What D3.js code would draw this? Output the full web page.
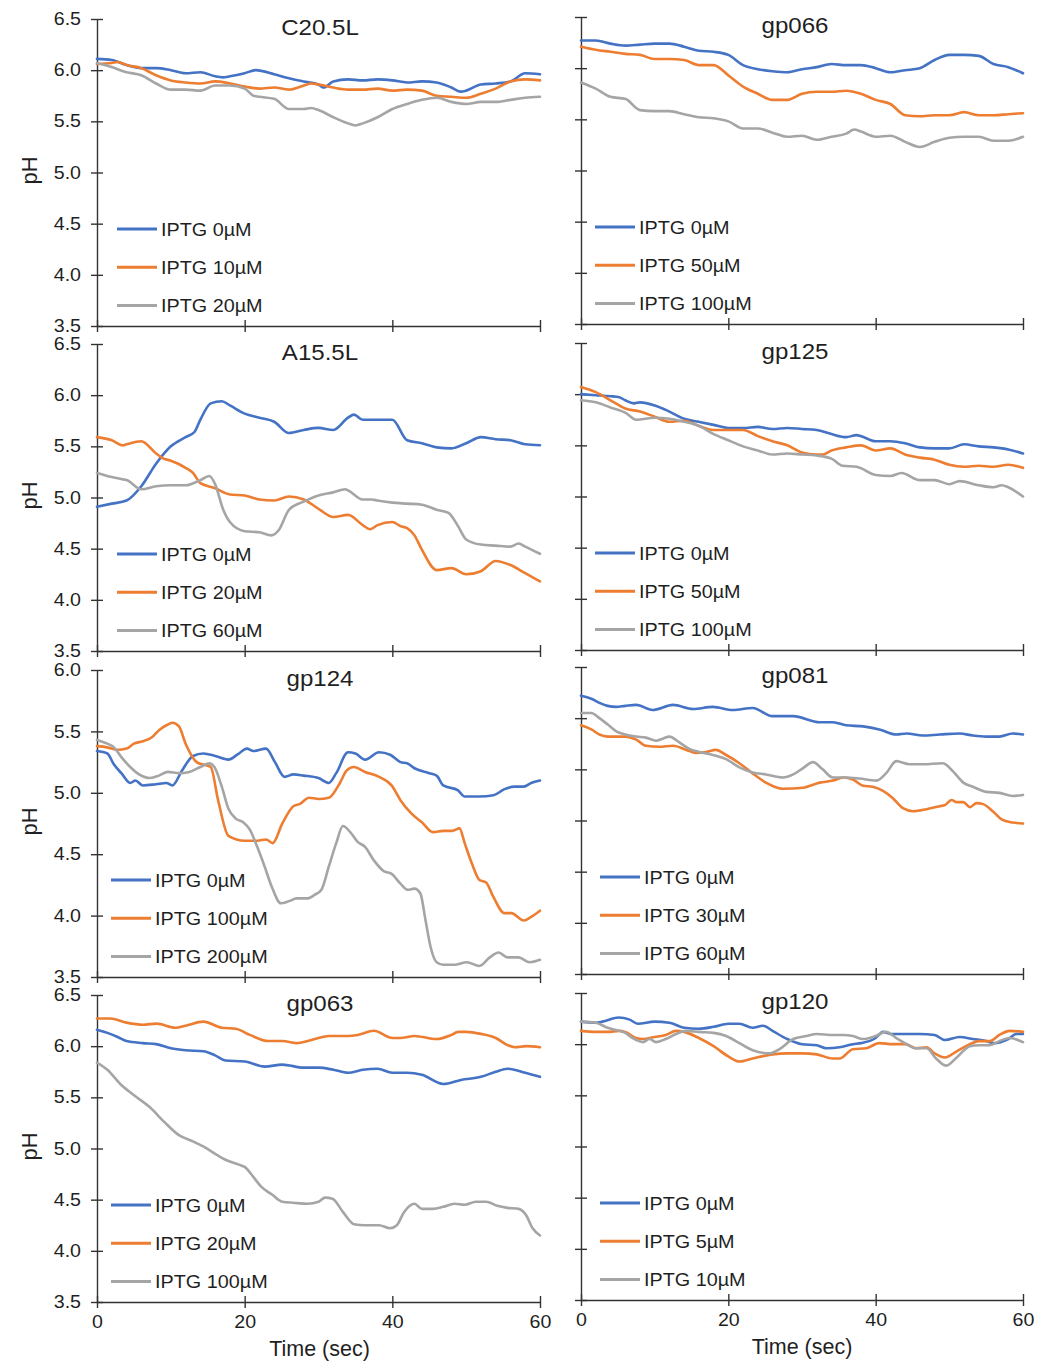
<!DOCTYPE html>
<html>
<head>
<meta charset="utf-8">
<script src="https://cdn.jsdelivr.net/npm/d3@7"></script>
<style>
  body { margin: 0; background: #fff; }
  svg { display: block; }
  text { font-family: "Liberation Sans", Arial, Helvetica, sans-serif; fill: #1f1f1f; }
</style>
</head>
<body>
<svg id="chart" width="1051" height="1362"></svg>
<script>
// ---- data: pH traces, [time (sec), pH] ----
const c205l_0 = [[0,6.11],[2,6.10],[4,6.05],[6,6.02],[8,6.02],[10,6.00],[12,5.97],[14,5.98],[16,5.94],[17,5.93],[18,5.94],[20,5.97],[21.5,6.00],[24,5.96],[26,5.92],[28,5.89],[30,5.86],[30.7,5.83],[32,5.89],[34,5.91],[36,5.90],[38,5.91],[40,5.90],[42,5.88],[44,5.89],[46,5.88],[48,5.83],[49.3,5.79],[50,5.80],[52,5.86],[54,5.87],[56,5.89],[58,5.97],[60,5.96]];
const c205l_10 = [[0,6.06],[2,6.07],[2.8,6.08],[4,6.05],[6,6.02],[8,5.95],[10,5.90],[12,5.88],[14,5.87],[16,5.89],[18,5.87],[20,5.84],[22,5.82],[24,5.83],[26,5.81],[28,5.85],[29,5.87],[30,5.86],[32,5.83],[34,5.81],[36,5.81],[38,5.82],[40,5.80],[42,5.81],[44,5.80],[46,5.75],[48,5.74],[50,5.73],[52,5.77],[54,5.82],[56,5.89],[58,5.91],[60,5.90]];
const c205l_20 = [[0,6.07],[2,6.03],[4,5.98],[6,5.95],[8,5.87],[10,5.81],[12,5.81],[14,5.80],[16,5.85],[18,5.85],[20,5.82],[21.2,5.75],[22,5.74],[24,5.72],[26,5.62],[28,5.62],[29,5.63],[30,5.61],[32,5.54],[34,5.48],[35,5.46],[36,5.48],[38,5.54],[40,5.62],[42,5.67],[44,5.71],[46,5.73],[48,5.69],[50,5.67],[52,5.69],[54,5.69],[56,5.71],[58,5.73],[60,5.74]];

const gp066_0 = [[0,6.27],[2,6.27],[4,6.24],[6,6.22],[8,6.23],[10,6.24],[12,6.24],[14,6.21],[16,6.17],[18,6.16],[20,6.13],[22,6.03],[24,5.99],[26,5.97],[28,5.96],[30,5.99],[32,6.01],[34,6.04],[36,6.03],[38,6.03],[40,6.00],[42,5.96],[44,5.98],[46,6.00],[48,6.08],[50,6.13],[52,6.13],[54,6.12],[56,6.04],[58,6.01],[60,5.95]];
const gp066_50 = [[0,6.21],[2,6.18],[4,6.16],[6,6.14],[8,6.13],[10,6.09],[12,6.09],[14,6.08],[16,6.03],[18,6.03],[20,5.93],[22,5.82],[24,5.75],[26,5.69],[28,5.69],[30,5.75],[32,5.77],[34,5.77],[36,5.78],[38,5.75],[40,5.69],[42,5.65],[44,5.54],[46,5.53],[48,5.54],[50,5.54],[52,5.57],[54,5.54],[56,5.54],[58,5.55],[60,5.56]];
const gp066_100 = [[0,5.86],[2,5.80],[4,5.72],[6,5.70],[8,5.59],[10,5.58],[12,5.58],[14,5.55],[16,5.52],[18,5.51],[20,5.48],[22,5.41],[24,5.41],[26,5.37],[28,5.33],[30,5.34],[32,5.30],[34,5.33],[36,5.36],[37.1,5.40],[38,5.38],[40,5.33],[42,5.34],[44,5.28],[46,5.23],[48,5.28],[50,5.32],[52,5.33],[54,5.33],[56,5.29],[58,5.29],[60,5.33]];

const a155l_0 = [[0,4.91],[2,4.94],[4,4.97],[6,5.11],[8,5.33],[10,5.50],[12,5.59],[13.2,5.64],[14,5.76],[15.4,5.92],[16.9,5.94],[18,5.90],[20,5.82],[22,5.78],[24,5.74],[26,5.63],[28,5.66],[30,5.68],[32,5.66],[34,5.78],[34.8,5.81],[36,5.76],[38,5.76],[40,5.76],[42,5.56],[44,5.53],[46,5.49],[48,5.48],[50,5.53],[52,5.59],[54,5.57],[56,5.56],[58,5.52],[60,5.51]];
const a155l_20 = [[0,5.59],[2,5.56],[3.5,5.51],[4,5.52],[6,5.55],[8,5.43],[9,5.38],[10,5.36],[11,5.33],[12,5.29],[13,5.24],[14,5.14],[16,5.09],[18,5.03],[20,5.02],[22,4.98],[24,4.97],[26,5.01],[28,4.98],[30,4.89],[32,4.81],[34,4.83],[36,4.73],[37,4.69],[38,4.73],[40,4.76],[41.1,4.72],[42,4.70],[43,4.63],[44,4.49],[46,4.29],[48,4.31],[50,4.25],[52,4.28],[54,4.38],[56,4.34],[58,4.26],[60,4.18]];
const a155l_60 = [[0,5.24],[2,5.20],[3.3,5.18],[4,5.17],[6,5.08],[8,5.11],[10,5.12],[12,5.12],[14,5.17],[15.2,5.21],[16,5.13],[17.1,4.88],[18,4.76],[20,4.67],[22,4.66],[23.6,4.63],[24.6,4.68],[26,4.88],[28,4.96],[30,5.02],[32,5.05],[33.6,5.08],[34,5.07],[36,4.98],[37.2,4.98],[38,4.97],[40,4.95],[42,4.94],[44,4.93],[46,4.88],[47.6,4.85],[48.9,4.72],[50,4.59],[52,4.54],[54,4.53],[56,4.52],[57.1,4.55],[58,4.52],[60,4.45]];

const gp125_0 = [[0,6.00],[2,5.99],[4,5.98],[5.2,5.97],[6,5.94],[7.2,5.91],[8,5.92],[10,5.89],[12,5.83],[14,5.76],[16,5.73],[18,5.70],[20,5.67],[22,5.67],[24,5.68],[26,5.66],[28,5.67],[30,5.66],[32,5.65],[34,5.61],[36,5.58],[37.4,5.60],[38,5.59],[40,5.54],[42,5.54],[44,5.52],[46,5.48],[48,5.47],[50,5.47],[52,5.51],[54,5.49],[56,5.48],[58,5.46],[60,5.42]];
const gp125_50 = [[0,6.07],[2,6.02],[4,5.94],[6,5.86],[8,5.83],[10,5.78],[12,5.73],[14,5.74],[16,5.69],[18,5.65],[20,5.65],[22,5.65],[24,5.59],[26,5.54],[28,5.50],[30,5.43],[32,5.41],[32.8,5.41],[34,5.45],[36,5.48],[38,5.50],[40,5.45],[42,5.47],[44,5.41],[46,5.38],[48,5.36],[50,5.31],[52,5.29],[54,5.30],[56,5.29],[58,5.31],[60,5.28]];
const gp125_100 = [[0,5.94],[2,5.92],[4,5.87],[6,5.82],[7.5,5.75],[10,5.77],[12,5.76],[14,5.73],[16,5.69],[18,5.61],[20,5.55],[22,5.49],[24,5.45],[26,5.41],[28,5.42],[30,5.41],[32,5.40],[34,5.37],[35.5,5.30],[37.4,5.29],[40,5.21],[42,5.20],[43.5,5.23],[46,5.16],[48,5.16],[50,5.12],[51.4,5.15],[54,5.11],[56,5.09],[57.1,5.11],[58,5.09],[60,5.00]];

const gp124_0 = [[0,5.34],[1.4,5.32],[2.3,5.23],[3.3,5.16],[4.5,5.08],[5.2,5.10],[6.2,5.06],[8,5.07],[9.4,5.08],[10.2,5.06],[11.5,5.18],[13,5.30],[14.4,5.32],[16,5.30],[17.8,5.27],[19,5.31],[20.3,5.36],[21.2,5.34],[22.9,5.36],[24.1,5.25],[25.4,5.13],[26.6,5.15],[28,5.14],[30,5.12],[31.4,5.08],[32.4,5.16],[34,5.33],[35,5.32],[36.3,5.27],[38.2,5.33],[39.7,5.31],[41.1,5.25],[42,5.24],[43,5.20],[45,5.16],[46,5.14],[46.9,5.06],[48.9,5.02],[49.8,4.97],[51.8,4.97],[53.7,4.98],[55.2,5.03],[56.6,5.05],[57.8,5.05],[58.8,5.08],[60,5.10]];
const gp124_100 = [[0,5.38],[1.4,5.37],[2.8,5.35],[4,5.36],[5,5.40],[6.2,5.42],[7.4,5.45],[8.4,5.51],[9.4,5.55],[10.2,5.57],[11.1,5.54],[12,5.40],[13.5,5.25],[14.4,5.23],[15.4,5.21],[16.4,4.94],[17.8,4.65],[20,4.61],[21.7,4.61],[22.9,4.62],[23.8,4.59],[25.1,4.75],[26.6,4.89],[27.5,4.91],[28.7,4.96],[30,4.95],[31.4,4.96],[32.9,5.08],[33.8,5.18],[34.8,5.21],[36.3,5.17],[38.2,5.13],[39.9,5.06],[41.1,4.94],[42.6,4.83],[44,4.76],[45.5,4.68],[46.9,4.69],[48.1,4.69],[49.1,4.71],[49.8,4.59],[50.8,4.42],[51.8,4.29],[52.7,4.27],[53.7,4.15],[55.2,4.02],[56.1,4.02],[57.8,3.96],[58.8,3.99],[60,4.04]];
const gp124_200 = [[0,5.43],[1.4,5.40],[2.3,5.37],[3.3,5.29],[4.5,5.21],[5.7,5.15],[7.2,5.12],[8.4,5.14],[9.6,5.17],[11.1,5.16],[12.5,5.17],[14,5.21],[15.2,5.24],[15.9,5.21],[16.9,5.05],[17.8,4.87],[18.8,4.79],[19.8,4.76],[20.7,4.70],[21.7,4.56],[22.7,4.40],[23.7,4.23],[24.9,4.10],[26.1,4.12],[27,4.14],[28.5,4.14],[29.5,4.17],[30.4,4.21],[31.4,4.40],[32.4,4.59],[33.3,4.73],[34.3,4.68],[35.3,4.60],[36.3,4.56],[37.5,4.45],[38.9,4.36],[39.9,4.34],[41.1,4.26],[42.1,4.21],[43,4.22],[43.8,4.18],[44.5,3.96],[45.2,3.74],[46,3.62],[46.9,3.60],[48.4,3.60],[50.1,3.62],[51.8,3.59],[53.2,3.66],[54.4,3.70],[55.6,3.66],[57.1,3.66],[58.6,3.62],[60,3.64]];

const gp081_0 = [[0,6.22],[1.4,6.19],[2.5,6.15],[3.6,6.12],[4.8,6.11],[6,6.12],[7.5,6.13],[9.7,6.08],[12.5,6.13],[15.2,6.09],[17.9,6.11],[20.6,6.08],[23.3,6.10],[26,6.02],[28.8,6.02],[32.4,5.96],[34.2,5.96],[36,5.93],[38.3,5.92],[40.5,5.89],[42.8,5.84],[44.2,5.85],[46.4,5.83],[48.7,5.84],[51.4,5.85],[53.2,5.83],[55,5.82],[56.8,5.82],[58.6,5.85],[60,5.84]];
const gp081_30 = [[0,5.93],[1.4,5.89],[2.5,5.84],[3.6,5.82],[6,5.82],[7.5,5.79],[8.8,5.73],[10.6,5.72],[12.5,5.73],[14.3,5.69],[15.6,5.66],[17,5.67],[18.3,5.69],[19.7,5.64],[21.5,5.56],[23.3,5.46],[25.1,5.37],[27.4,5.31],[30.1,5.32],[32.4,5.37],[34.2,5.39],[35.6,5.42],[36.9,5.40],[38.3,5.34],[39.6,5.33],[41,5.29],[42.3,5.22],[43.7,5.12],[45.1,5.09],[46.9,5.11],[48.7,5.14],[49.4,5.15],[50.3,5.20],[51,5.18],[51.9,5.18],[52.8,5.13],[53.7,5.17],[54.6,5.16],[55.9,5.09],[57.1,5.01],[58.6,4.98],[60,4.97]];
const gp081_60 = [[0,6.05],[1.4,6.05],[2.5,6.00],[3.6,5.94],[4.8,5.87],[6,5.84],[7.5,5.82],[8.8,5.81],[10.2,5.78],[11.1,5.80],[12,5.82],[13.4,5.76],[14.7,5.70],[16.1,5.67],[17.9,5.64],[19.7,5.60],[21.5,5.52],[23.3,5.47],[25.1,5.45],[27.4,5.42],[28.8,5.45],[30.1,5.51],[31.5,5.57],[32.8,5.50],[34.2,5.42],[36,5.42],[37.8,5.41],[40.1,5.39],[41.4,5.46],[42.8,5.58],[44.6,5.55],[46.4,5.55],[49.1,5.56],[50.5,5.48],[51.9,5.37],[53.2,5.33],[55,5.28],[56.8,5.27],[58.6,5.24],[60,5.25]];

const gp063_0 = [[0,6.16],[1.4,6.13],[2.8,6.09],[4,6.05],[6.2,6.03],[8,6.02],[10,5.98],[12,5.96],[14.4,5.95],[16,5.91],[17.4,5.86],[20,5.85],[22.7,5.80],[25.1,5.82],[28,5.79],[30,5.79],[32,5.77],[34,5.74],[36,5.77],[38,5.78],[40,5.74],[42,5.74],[44,5.72],[46.9,5.63],[49.3,5.67],[52,5.70],[54,5.75],[55.6,5.78],[58,5.74],[60,5.70]];
const gp063_20 = [[0,6.27],[1.8,6.27],[4,6.23],[6.2,6.21],[8.1,6.22],[10.6,6.18],[12,6.20],[14.4,6.24],[16.9,6.18],[18.8,6.17],[20.7,6.11],[23.2,6.05],[25.1,6.05],[27,6.03],[29.5,6.07],[31.4,6.10],[34,6.10],[35.3,6.11],[37.5,6.15],[40,6.08],[41.1,6.08],[43,6.10],[46,6.07],[48,6.11],[48.9,6.14],[50,6.14],[52,6.12],[54,6.08],[55.6,6.01],[56.6,5.99],[58.1,6.00],[60,5.99]];
const gp063_100 = [[0,5.84],[1.4,5.77],[3.3,5.62],[5.2,5.51],[7.2,5.40],[9.1,5.26],[11.1,5.13],[13,5.07],[14.4,5.02],[16.4,4.93],[17.4,4.89],[19.3,4.84],[20,4.82],[21.2,4.72],[22.2,4.63],[23.7,4.55],[25.1,4.48],[26.6,4.47],[28.5,4.46],[30,4.48],[30.9,4.52],[31.9,4.51],[33.3,4.38],[34.8,4.26],[36.3,4.25],[38.2,4.25],[39.7,4.22],[40.6,4.25],[41.6,4.38],[43,4.46],[44,4.41],[45.5,4.41],[46.9,4.43],[48.4,4.46],[49.8,4.45],[51.3,4.48],[52.7,4.48],[54.2,4.44],[55.6,4.42],[57.1,4.41],[58.1,4.35],[59,4.22],[60,4.15]];

const gp120_0 = [[0,6.22],[2,6.21],[2.9,6.22],[5.1,6.26],[6.6,6.24],[7.7,6.20],[10,6.22],[12,6.21],[14,6.16],[16,6.15],[18,6.17],[20,6.20],[21.5,6.20],[23.3,6.16],[24.7,6.18],[26,6.13],[28,6.05],[30,6.00],[32,5.99],[33.3,5.96],[35.1,5.97],[36.9,6.00],[38,6.01],[40,6.06],[41,6.12],[42,6.10],[44,6.10],[46,6.10],[48,6.09],[49.4,6.04],[51.4,6.07],[53.2,6.05],[55,6.03],[56,6.01],[58,6.05],[59.1,6.10],[60,6.10]];
const gp120_5 = [[0,6.13],[2,6.12],[3.6,6.12],[5.2,6.13],[6,6.12],[7.5,6.06],[8.4,6.05],[10,6.07],[11.5,6.09],[12.9,6.13],[14,6.12],[16,6.06],[18,5.98],[20,5.88],[21.5,5.83],[23.3,5.86],[26,5.90],[28,5.91],[30,5.91],[32,5.90],[34.2,5.86],[35.1,5.86],[36.9,5.95],[38.7,5.96],[40.5,6.01],[42.3,6.00],[44,6.00],[45.5,5.96],[46.9,5.97],[48,5.91],[49.4,5.87],[51,5.93],[52.8,6.00],[54,6.03],[55.5,6.03],[56.8,6.09],[58.2,6.13],[60,6.12]];
const gp120_10 = [[0,6.22],[2,6.21],[3.6,6.16],[5.2,6.13],[6,6.11],[7,6.06],[8.4,6.02],[9.3,6.05],[10.2,6.02],[11.5,6.05],[12.9,6.10],[14.3,6.13],[16,6.12],[18,6.11],[19.7,6.08],[21.5,6.01],[23.3,5.94],[25.6,5.91],[26.9,5.95],[28.8,6.05],[30.6,6.08],[32,6.10],[34.2,6.09],[35.6,6.09],[36.9,6.08],[38.3,6.05],[40,6.08],[41.4,6.12],[42.8,6.06],[44.2,6.00],[45.5,5.96],[46.9,5.96],[48.2,5.86],[49.6,5.79],[51,5.87],[52.8,5.98],[54,5.99],[55.5,5.99],[56.8,6.03],[58.2,6.06],[60,6.02]];

// ---- labels and axes ----
const panelTitles = ["C20.5L", "gp066", "A15.5L", "gp125", "gp124", "gp081", "gp063", "gp120"];
const legendLabels = [
  ["IPTG 0µM", "IPTG 10µM", "IPTG 20µM"],
  ["IPTG 0µM", "IPTG 50µM", "IPTG 100µM"],
  ["IPTG 0µM", "IPTG 20µM", "IPTG 60µM"],
  ["IPTG 0µM", "IPTG 50µM", "IPTG 100µM"],
  ["IPTG 0µM", "IPTG 100µM", "IPTG 200µM"],
  ["IPTG 0µM", "IPTG 30µM", "IPTG 60µM"],
  ["IPTG 0µM", "IPTG 20µM", "IPTG 100µM"],
  ["IPTG 0µM", "IPTG 5µM", "IPTG 10µM"]
];
const panelSeries = [
  [c205l_0, c205l_10, c205l_20],
  [gp066_0, gp066_50, gp066_100],
  [a155l_0, a155l_20, a155l_60],
  [gp125_0, gp125_50, gp125_100],
  [gp124_0, gp124_100, gp124_200],
  [gp081_0, gp081_30, gp081_60],
  [gp063_0, gp063_20, gp063_100],
  [gp120_0, gp120_5, gp120_10]
];
const timeTicks = [0, 20, 40, 60];
const pHTicksWide = [3.5, 4.0, 4.5, 5.0, 5.5, 6.0, 6.5];
const pHTicksNarrow = [3.5, 4.0, 4.5, 5.0, 5.5, 6.0];
const panelTop = [6.5, 6.5, 6.5, 6.5, 6.0, 6.5, 6.5, 6.5];
const seriesColors = ["#4472C4", "#ED7D31", "#A5A5A5"];
const xTitle = "Time (sec)";
const yTitle = "pH";

// ---- layout ----
const svg = d3.select("#chart");
const colLeft = [97, 581];
const colRight = [540, 1023];
const rowTops = [[19, 17], [344, 343], [670, 667], [995, 993]];
const plotH = 307;
const axisColor = "#333";

// widen glyphs slightly (the figure's lettering is a little broader than the font)
function widen(sel, factor) {
  sel.each(function () {
    const w = this.getComputedTextLength();
    if (w > 0) {
      this.setAttribute("textLength", (w * factor).toFixed(2));
      this.setAttribute("lengthAdjust", "spacingAndGlyphs");
    }
  });
}

panelTitles.forEach((title, i) => {
  const row = Math.floor(i / 2), col = i % 2;
  const top = rowTops[row][col];
  const x = d3.scaleLinear().domain([0, 60]).range([colLeft[col], colRight[col]]);
  const y = d3.scaleLinear().domain([3.5, panelTop[i]]).range([top + plotH, top]);
  const ticks = panelTop[i] === 6.0 ? pHTicksNarrow : pHTicksWide;
  const g = svg.append("g");

  // y axis
  const yAxis = d3.axisLeft(y).tickValues(ticks).tickSizeInner(5).tickSizeOuter(0).tickPadding(11)
    .tickFormat(col === 0 ? d3.format(".1f") : () => "");
  const ya = g.append("g").attr("transform", `translate(${colLeft[col]},0)`).call(yAxis);
  ya.select(".domain").attr("stroke", axisColor).attr("stroke-width", 1.4);
  ya.selectAll(".tick line").attr("x1", -6).attr("x2", 6).attr("stroke", axisColor).attr("stroke-width", 1.4);
  const yt = ya.selectAll(".tick text").attr("font-size", 17.5).attr("font-family", null).style("fill", "#1f1f1f");
  widen(yt, 1.12);

  // x axis
  const xAxis = d3.axisBottom(x).tickValues(timeTicks).tickSizeInner(6).tickSizeOuter(0).tickPadding(8)
    .tickFormat(row === 3 ? d3.format("d") : () => "");
  const xa = g.append("g").attr("transform", `translate(0,${top + plotH})`).call(xAxis);
  xa.select(".domain").attr("stroke", axisColor).attr("stroke-width", 1.4);
  xa.selectAll(".tick line").attr("y1", -6).attr("y2", 6).attr("stroke", axisColor).attr("stroke-width", 1.4);
  const xt = xa.selectAll(".tick text").attr("font-size", 17.5).attr("font-family", null).style("fill", "#1f1f1f");
  widen(xt, 1.12);

  // traces
  const line = d3.line().x(d => x(d[0])).y(d => y(d[1])).curve(d3.curveMonotoneX);
  panelSeries[i].forEach((s, k) => {
    g.append("path").datum(s).attr("d", line)
      .attr("fill", "none").attr("stroke", seriesColors[k])
      .attr("stroke-width", 2.6).attr("stroke-linejoin", "round").attr("stroke-linecap", "round");
  });

  // title
  const tt = g.append("text").attr("x", col === 0 ? 320 : 795).attr("y", top + 15.5)
    .attr("text-anchor", "middle").attr("font-size", 21.5).text(title);
  widen(tt, 1.12);

  // legend
  const lx0 = col === 0 ? (row < 2 ? 117 : 111) : (row < 2 ? 595 : 600);
  const lx1 = lx0 + 40;
  legendLabels[i].forEach((lab, k) => {
    const ly = top + 210 + k * 38.3;
    g.append("line").attr("x1", lx0).attr("x2", lx1).attr("y1", ly).attr("y2", ly)
      .attr("stroke", seriesColors[k]).attr("stroke-width", 3);
    const lt = g.append("text").attr("x", lx1 + 4).attr("y", ly).attr("dy", "0.36em")
      .attr("font-size", 18.5).text(lab);
    widen(lt, 1.07);
  });

  // axis titles
  if (col === 0) {
    g.append("text").attr("transform", `translate(37,${top + plotH / 2 - 2}) rotate(-90)`)
      .attr("text-anchor", "middle").attr("font-size", 22).text(yTitle);
  }
  if (row === 3) {
    g.append("text").attr("x", (colLeft[col] + colRight[col]) / 2 + (col === 0 ? 1 : 0)).attr("y", top + plotH + 54)
      .attr("text-anchor", "middle").attr("font-size", 21.5).text(xTitle);
  }
});
</script>
</body>
</html>
